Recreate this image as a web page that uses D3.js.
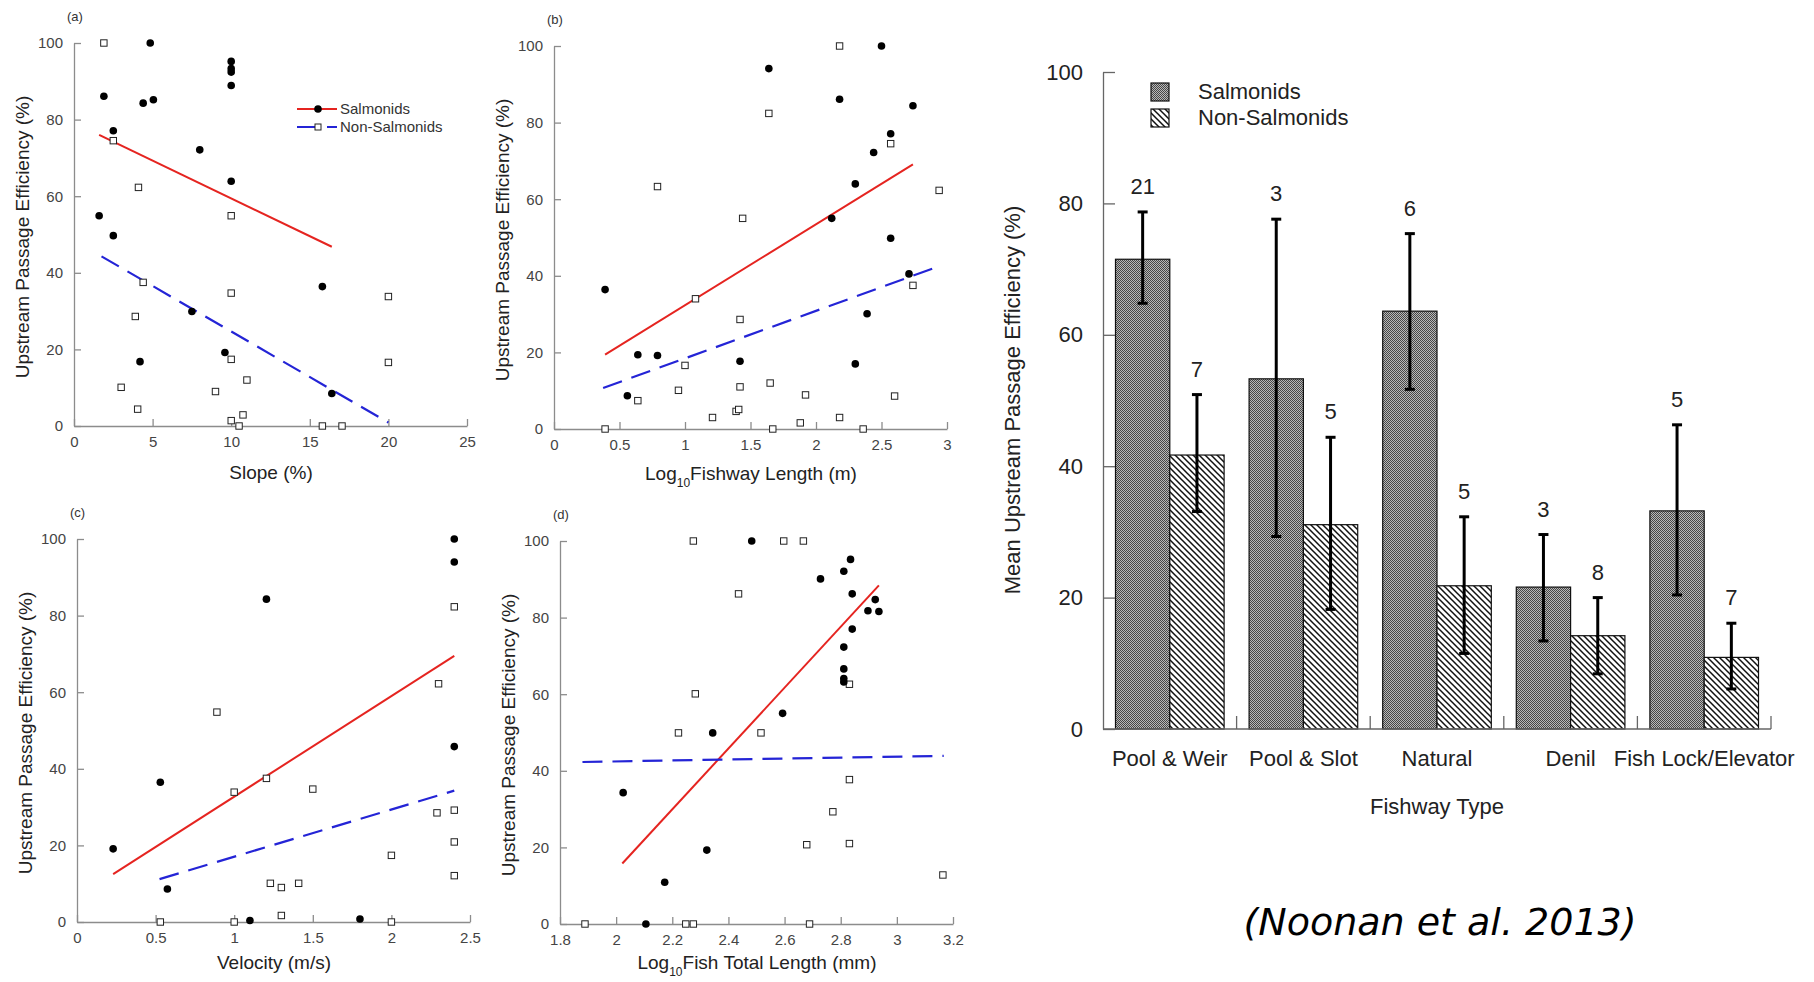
<!DOCTYPE html>
<html>
<head>
<meta charset="utf-8">
<script src="https://cdn.jsdelivr.net/npm/d3@7"></script>
<style>
	body { margin: 0; background: #fff; }
	svg { display: block; }
</style>
</head>
<body>
<svg id="fig" width="1814" height="982"></svg>
<script>
// ---- scatter data: [x, efficiency %] ----
const slopeSal = [[1.6,54.9],[1.9,86.1],[2.5,77.1],[2.5,49.7],[4.2,16.8],[4.4,84.3],[4.85,100],[5.05,85.2],[7.5,29.9],[8.0,72.1],[9.6,19.2],[10,95.2],[10,93.3],[10,92.4],[10,88.9],[10,63.9],[15.8,36.4],[16.4,8.5]];
const slopeNon = [[1.9,100],[2.5,74.5],[3.0,10.1],[3.9,28.6],[4.05,4.4],[4.1,62.3],[4.4,37.5],[9.0,9.0],[10,54.9],[10,34.7],[10,17.4],[10,1.4],[10.5,0],[10.75,2.9],[11,12.0],[15.8,0],[17.05,0],[20,33.8],[20,16.6]];
const slopeFitSal = [[1.6,76.0],[16.4,46.8]];
const slopeFitNon = [[1.75,44.3],[20,0.9]];

const lengthSal = [[0.39,36.4],[0.56,8.7],[0.64,19.4],[0.79,19.2],[1.42,17.7],[1.64,94.1],[2.12,55.0],[2.18,86.1],[2.30,64.0],[2.30,17.0],[2.39,30.1],[2.44,72.2],[2.50,100],[2.57,77.1],[2.57,49.8],[2.71,40.5],[2.74,84.4]];
const lengthNon = [[0.39,0],[0.64,7.4],[0.79,63.3],[0.95,10.1],[1.0,16.6],[1.08,34.0],[1.21,3.0],[1.39,4.6],[1.41,5.1],[1.42,28.6],[1.42,11.0],[1.44,55.0],[1.64,82.4],[1.65,12.0],[1.67,0],[1.88,1.6],[1.92,8.9],[2.18,100],[2.18,3.0],[2.36,0],[2.57,74.5],[2.60,8.6],[2.74,37.5],[2.94,62.3]];
const lengthFitSal = [[0.39,19.4],[2.74,69.1]];
const lengthFitNon = [[0.375,10.7],[2.94,42.5]];

const velocitySal = [[0.23,19.1],[0.53,36.5],[0.575,8.6],[1.10,0.4],[1.205,84.3],[1.80,0.8],[2.40,100],[2.40,94.0],[2.40,45.8]];
const velocityNon = [[0.53,0],[0.89,54.8],[1.0,33.9],[1.0,0],[1.205,37.5],[1.23,10.1],[1.30,9.0],[1.30,1.7],[1.41,10.1],[1.50,34.7],[2.0,17.4],[2.0,0],[2.29,28.5],[2.30,62.2],[2.40,82.3],[2.40,29.2],[2.40,20.9],[2.40,12.1]];
const velocityFitSal = [[0.23,12.5],[2.40,69.5]];
const velocityFitNon = [[0.525,11.2],[2.40,34.3]];

const fishLenSal = [[2.025,34.3],[2.106,0],[2.173,10.9],[2.323,19.3],[2.344,49.9],[2.483,100],[2.593,55.0],[2.728,90.1],[2.811,92.1],[2.835,95.2],[2.841,86.2],[2.897,81.8],[2.923,84.7],[2.936,81.6],[2.811,72.3],[2.841,77.0],[2.811,66.6],[2.811,64.1],[2.811,63.2]];
const fishLenNon = [[1.889,0],[2.222,49.9],[2.248,0],[2.275,0],[2.275,100],[2.282,60.1],[2.436,86.2],[2.516,49.9],[2.597,100],[2.667,100],[2.679,20.7],[2.689,0],[2.772,29.3],[2.831,62.6],[2.831,37.7],[2.831,21.0],[3.164,12.8]];
const fishLenFitSal = [[2.022,15.8],[2.936,88.4]];
const fishLenFitNon = [[1.88,42.3],[3.167,43.9]];

// ---- tick labels ----
const effTicks = [0, 20, 40, 60, 80, 100];
const slopeTicks = [0, 5, 10, 15, 20, 25];
const lengthTicks = [0, 0.5, 1, 1.5, 2, 2.5, 3];
const velocityTicks = [0, 0.5, 1, 1.5, 2, 2.5];
const fishLenTicks = [1.8, 2, 2.2, 2.4, 2.6, 2.8, 3, 3.2];

// ---- bar chart data ----
const fishwayTypes = ['Pool & Weir', 'Pool & Slot', 'Natural', 'Denil', 'Fish Lock/Elevator'];
const groups = ['Salmonids', 'Non-Salmonids'];
const salMean = [71.5, 53.3, 63.6, 21.6, 33.2];
const salLow = [64.8, 29.3, 51.7, 13.4, 20.4];
const salHigh = [78.7, 77.6, 75.4, 29.6, 46.3];
const salN = [21, 3, 6, 3, 5];
const nonMean = [41.7, 31.1, 21.8, 14.2, 10.9];
const nonLow = [33.1, 18.2, 11.5, 8.4, 6.1];
const nonHigh = [50.9, 44.4, 32.3, 20.0, 16.1];
const nonN = [7, 5, 5, 8, 7];

const FONT = '"Liberation Sans", Arial, sans-serif';
const svg = d3.select('#fig');
svg.append('rect').attr('width', 1814).attr('height', 982).attr('fill', '#fff');

const defs = svg.append('defs');
const dots = defs.append('pattern').attr('id', 'dots')
	.attr('width', 2).attr('height', 2).attr('patternUnits', 'userSpaceOnUse');
dots.append('rect').attr('width', 2).attr('height', 2).attr('fill', '#b8b8b8');
dots.append('rect').attr('width', 1).attr('height', 1).attr('fill', '#474747');
dots.append('rect').attr('x', 1).attr('y', 1).attr('width', 1).attr('height', 1).attr('fill', '#474747');
const hatch = defs.append('pattern').attr('id', 'hatch')
	.attr('width', 6).attr('height', 6).attr('patternUnits', 'userSpaceOnUse');
hatch.append('rect').attr('width', 6).attr('height', 6).attr('fill', '#fff');
hatch.append('path').attr('d', 'M0,0L6,6M-1,5L1,7M5,-1L7,1')
	.attr('stroke', '#111').attr('stroke-width', 1.5);

// ---- scatter panels ----
function scatter(p) {
	const g = svg.append('g');
	const x = d3.scaleLinear().domain(p.xDomain).range([p.left, p.left + 393]);
	const y = d3.scaleLinear().domain([0, 100]).range([p.bottom, p.bottom - 383]);

	g.append('g').attr('transform', 'translate(0,' + p.bottom + ')')
		.call(d3.axisBottom(x).tickValues(p.xTicks).tickFormat(d => d)
			.tickSize(-7).tickSizeOuter(0).tickPadding(10));
	g.append('g').attr('transform', 'translate(' + p.left + ',0)')
		.call(d3.axisLeft(y).tickValues(effTicks).tickSize(-7).tickSizeOuter(0).tickPadding(11));
	g.selectAll('.domain, .tick line').attr('stroke', '#8c8c8c').attr('stroke-width', 1.3);
	g.selectAll('.tick text').attr('fill', '#444').attr('font-size', 15).attr('font-family', FONT);

	const line = d3.line().x(d => x(d[0])).y(d => y(d[1]));
	g.append('path').datum(p.fitSal).attr('d', line)
		.attr('fill', 'none').attr('stroke', '#e52420').attr('stroke-width', 2);
	g.append('path').datum(p.fitNon).attr('d', line)
		.attr('fill', 'none').attr('stroke', '#2424d6').attr('stroke-width', 2.2)
		.attr('stroke-dasharray', '20,10');

	g.selectAll('.non').data(p.non).join('rect').attr('class', 'non')
		.attr('x', d => x(d[0]) - 3.2).attr('y', d => y(d[1]) - 3.2)
		.attr('width', 6.4).attr('height', 6.4)
		.attr('fill', '#fff').attr('stroke', '#222').attr('stroke-width', 1);
	g.selectAll('.sal').data(p.sal).join('circle').attr('class', 'sal')
		.attr('cx', d => x(d[0])).attr('cy', d => y(d[1])).attr('r', 3.8).attr('fill', '#000');

	// panel letter
	g.append('text').attr('x', p.left - 7).attr('y', p.bottom - 405)
		.attr('font-family', FONT).attr('font-size', 13).attr('fill', '#333').text(p.letter);

	// y title
	g.append('text')
		.attr('transform', 'translate(' + (p.left - 45) + ',' + (p.bottom - 189) + ') rotate(-90)')
		.attr('text-anchor', 'middle').attr('font-family', FONT).attr('font-size', 19).attr('fill', '#222')
		.text('Upstream Passage Efficiency (%)');

	// x title
	const t = g.append('text').attr('x', p.left + 197).attr('y', p.bottom + p.titleGap)
		.attr('text-anchor', 'middle').attr('font-family', FONT).attr('font-size', 19).attr('fill', '#222');
	if (p.logTitle) {
		t.append('tspan').text('Log');
		t.append('tspan').attr('font-size', 12).attr('dy', 7).text('10');
		t.append('tspan').attr('dy', -7).text(p.logTitle);
	} else {
		t.text(p.title);
	}
	return { g: g, x: x, y: y };
}

const pa = scatter({ left: 74, bottom: 426, xDomain: [0, 25], xTicks: slopeTicks, sal: slopeSal, non: slopeNon,
	fitSal: slopeFitSal, fitNon: slopeFitNon, letter: '(a)', title: 'Slope (%)', titleGap: 53 });
scatter({ left: 554, bottom: 429, xDomain: [0, 3], xTicks: lengthTicks, sal: lengthSal, non: lengthNon,
	fitSal: lengthFitSal, fitNon: lengthFitNon, letter: '(b)', logTitle: 'Fishway Length (m)', titleGap: 51 });
scatter({ left: 77, bottom: 922, xDomain: [0, 2.5], xTicks: velocityTicks, sal: velocitySal, non: velocityNon,
	fitSal: velocityFitSal, fitNon: velocityFitNon, letter: '(c)', title: 'Velocity (m/s)', titleGap: 47 });
scatter({ left: 560, bottom: 924, xDomain: [1.8, 3.2], xTicks: fishLenTicks, sal: fishLenSal, non: fishLenNon,
	fitSal: fishLenFitSal, fitNon: fishLenFitNon, letter: '(d)', logTitle: 'Fish Total Length (mm)', titleGap: 45 });

// legend in panel (a)
const lg = pa.g.append('g').attr('transform', 'translate(297,109)');
lg.append('line').attr('x1', 0).attr('x2', 40).attr('stroke', '#e52420').attr('stroke-width', 2);
lg.append('circle').attr('cx', 21).attr('r', 3.8).attr('fill', '#000');
lg.append('line').attr('x1', 0).attr('x2', 40).attr('y1', 18).attr('y2', 18)
	.attr('stroke', '#2424d6').attr('stroke-width', 2).attr('stroke-dasharray', '20,10');
lg.append('rect').attr('x', 18).attr('y', 15).attr('width', 6).attr('height', 6)
	.attr('fill', '#fff').attr('stroke', '#222');
lg.selectAll('text').data(groups).join('text')
	.attr('x', 43).attr('y', (d, i) => 5 + i * 18)
	.attr('font-family', FONT).attr('font-size', 15).attr('fill', '#333').text(d => d);

// ---- bar chart ----
const bc = svg.append('g').attr('font-family', FONT);
const x0 = d3.scaleBand().domain(fishwayTypes).range([1103, 1771]);
const x1 = d3.scaleBand().domain(groups).range([0, x0.bandwidth()]).paddingOuter(0.23);
const yb = d3.scaleLinear().domain([0, 100]).range([729, 72]);

const barRows = [];
fishwayTypes.forEach((t, i) => {
	barRows.push({ type: t, group: groups[0], mean: salMean[i], lo: salLow[i], hi: salHigh[i], n: salN[i] });
	barRows.push({ type: t, group: groups[1], mean: nonMean[i], lo: nonLow[i], hi: nonHigh[i], n: nonN[i] });
});
const fillOf = g => g === groups[0] ? 'url(#dots)' : 'url(#hatch)';
const cx = d => x0(d.type) + x1(d.group) + x1.bandwidth() / 2;

bc.selectAll('.bar').data(barRows).join('rect').attr('class', 'bar')
	.attr('x', d => x0(d.type) + x1(d.group)).attr('width', x1.bandwidth())
	.attr('y', d => yb(d.mean)).attr('height', d => yb(0) - yb(d.mean))
	.attr('fill', d => fillOf(d.group)).attr('stroke', '#111').attr('stroke-width', 1.2);

const err = bc.selectAll('.err').data(barRows).join('g').attr('class', 'err')
	.attr('stroke', '#000').attr('stroke-width', 3);
err.append('line').attr('x1', cx).attr('x2', cx).attr('y1', d => yb(d.lo)).attr('y2', d => yb(d.hi));
err.append('line').attr('x1', d => cx(d) - 5).attr('x2', d => cx(d) + 5).attr('y1', d => yb(d.hi)).attr('y2', d => yb(d.hi));
err.append('line').attr('x1', d => cx(d) - 5).attr('x2', d => cx(d) + 5).attr('y1', d => yb(d.lo)).attr('y2', d => yb(d.lo));

bc.selectAll('.count').data(barRows).join('text').attr('class', 'count')
	.attr('x', cx).attr('y', d => yb(d.hi) - 18)
	.attr('text-anchor', 'middle').attr('font-size', 22).attr('fill', '#222').text(d => d.n);

// axes
const yAx = bc.append('g').attr('transform', 'translate(1103,0)')
	.call(d3.axisLeft(yb).tickValues(effTicks).tickSize(-12).tickSizeOuter(0).tickPadding(20));
yAx.selectAll('text').attr('font-size', 22).attr('font-family', FONT).attr('fill', '#222');
yAx.selectAll('.domain, .tick line').attr('stroke', '#666').attr('stroke-width', 1.3);

bc.append('line').attr('x1', 1103).attr('x2', 1771).attr('y1', yb(0)).attr('y2', yb(0))
	.attr('stroke', '#666').attr('stroke-width', 1.3);
bc.selectAll('.xt').data(fishwayTypes).join('line').attr('class', 'xt')
	.attr('x1', d => x0(d) + x0.bandwidth()).attr('x2', d => x0(d) + x0.bandwidth())
	.attr('y1', yb(0)).attr('y2', yb(0) - 13).attr('stroke', '#666').attr('stroke-width', 1.3);
bc.selectAll('.xl').data(fishwayTypes).join('text').attr('class', 'xl')
	.attr('x', d => x0(d) + x0.bandwidth() / 2).attr('y', 766)
	.attr('text-anchor', 'middle').attr('font-size', 22).attr('fill', '#222').text(d => d);

bc.append('text').attr('x', 1437).attr('y', 814).attr('text-anchor', 'middle')
	.attr('font-size', 22).attr('fill', '#222').text('Fishway Type');
bc.append('text').attr('transform', 'translate(1020,400) rotate(-90)').attr('text-anchor', 'middle')
	.attr('font-size', 22).attr('fill', '#222').text('Mean Upstream Passage Efficiency (%)');

// bar legend
const bl = bc.append('g').attr('transform', 'translate(1151,83)');
bl.selectAll('rect').data(groups).join('rect')
	.attr('y', (d, i) => i * 26).attr('width', 18).attr('height', 18)
	.attr('fill', d => fillOf(d)).attr('stroke', '#111').attr('stroke-width', 1.2);
bl.selectAll('text').data(groups).join('text')
	.attr('x', 47).attr('y', (d, i) => 16 + i * 26)
	.attr('font-size', 22).attr('fill', '#222').text(d => d);

// citation
svg.append('text').attr('x', 1440).attr('y', 935).attr('text-anchor', 'middle')
	.attr('font-family', '"DejaVu Sans", Verdana, sans-serif').attr('font-style', 'italic')
	.attr('font-size', 38).attr('fill', '#000').text('(Noonan et al. 2013)');
</script>
</body>
</html>
